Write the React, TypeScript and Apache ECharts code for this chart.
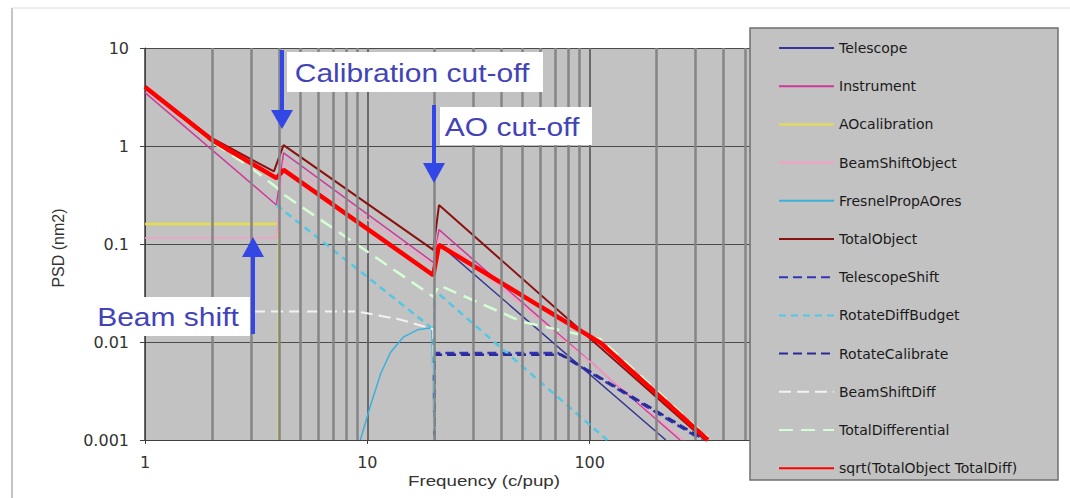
import React, { useEffect, useRef } from "react";
import * as echarts from "echarts";

// ---- axis ticks / grid ----
const xTicks = [1, 10, 100, 1000];
const yTicks = [0.001, 0.01, 0.1, 1, 10];
const minorGridF = [2, 3, 4, 5, 6, 7, 8, 9, 20, 30, 40, 50, 60, 70, 80, 90, 200, 300, 400, 500, 600, 700, 800, 900];

// ---- series names (legend order) ----
const seriesNames = [
  "Telescope",
  "Instrument",
  "AOcalibration",
  "BeamShiftObject",
  "FresnelPropAOres",
  "TotalObject",
  "TelescopeShift",
  "RotateDiffBudget",
  "RotateCalibrate",
  "BeamShiftDiff",
  "TotalDifferential",
  "sqrt(TotalObject TotalDiff)",
];

// ---- series values [frequency, PSD] ----
const telescope = [[1, 3.9], [2, 1.12], [3.9, 0.46], [4.2, 0.56], [19.8, 0.048], [21, 0.1], [220, 0.001]];
const instrument = [[1, 3.5], [3.9, 0.25], [4.2, 0.85], [19.8, 0.065], [21, 0.14], [255, 0.001]];
const aoCalibration = [[1, 0.16], [4, 0.16], [4, 0.001]];
const beamShiftObject = [[1, 0.115], [3.9, 0.115], [4.2, 0.7], [19.8, 0.06], [21, 0.12], [265, 0.001]];
const fresnelPropAOres = [[9.3, 0.001], [10.3, 0.0022], [11.5, 0.0048], [12.7, 0.0078], [14.5, 0.0112], [16.8, 0.0133], [19.5, 0.014], [20, 0.001]];
const totalObject = [[1, 4.1], [2, 1.2], [3.8, 0.55], [4.2, 1.02], [19.8, 0.087], [21, 0.25], [330, 0.001]];
const telescopeShift = [[20, 0.001], [20, 0.0077], [72, 0.0077], [320, 0.001]];
const rotateDiffBudget = [[3.9, 0.25], [19.8, 0.0135], [20, 0.001], [20, 0.034], [120, 0.001]];
const rotateCalibrate = [[20, 0.001], [20, 0.0074], [75, 0.0074], [330, 0.001]];
const beamShiftDiff = [[1, 0.0205], [9, 0.0205], [14, 0.017], [19.8, 0.0135], [20, 0.001]];
const totalDifferential = [[1, 3.9], [2, 1.1], [3, 0.6], [3.9, 0.38], [4.2, 0.32], [19.8, 0.029], [21, 0.038], [50, 0.016], [112, 0.0107], [340, 0.00106]];
const sqrtTotal = [[1, 4.0], [2, 1.15], [3.9, 0.47], [4.2, 0.57], [19.8, 0.048], [21, 0.098], [60, 0.023], [112, 0.0098], [340, 0.001]];

const seriesData = [
  telescope, instrument, aoCalibration, beamShiftObject, fresnelPropAOres, totalObject,
  telescopeShift, rotateDiffBudget, rotateCalibrate, beamShiftDiff, totalDifferential, sqrtTotal,
];

const seriesStyles: { color: string; width: number; type: any }[] = [
  { color: "#343494", width: 1.5, type: "solid" },
  { color: "#D0399A", width: 1.5, type: "solid" },
  { color: "#E8DE48", width: 2.5, type: "solid" },
  { color: "#F6A0C6", width: 1.5, type: "solid" },
  { color: "#3CB0DC", width: 1.5, type: "solid" },
  { color: "#8B1010", width: 2, type: "solid" },
  { color: "#3434B4", width: 2.5, type: [9, 5] },
  { color: "#52C8E4", width: 2.5, type: [7, 5] },
  { color: "#2A2A98", width: 2.5, type: [9, 5] },
  { color: "#F2F2F2", width: 2, type: [12, 6] },
  { color: "#D4FFD4", width: 2.5, type: [14, 8] },
  { color: "#FF0000", width: 4.5, type: "solid" },
];

const fmt = (v: number) => String(Number(Number(v).toPrecision(6)));

export default function App() {
  const ref = useRef<HTMLDivElement>(null);
  useEffect(() => {
    if (!ref.current) return;
    const chart = echarts.init(ref.current, undefined, { renderer: "svg" });
    const annotBlue = "#4343B8";
    const arrowBlue = "#3347E6";
    const series: any[] = [
      {
        type: "line",
        data: [],
        z: 1,
        silent: true,
        markLine: {
          silent: true,
          animation: false,
          symbol: ["none", "none"],
          label: { show: false },
          lineStyle: { color: "#858585", width: 2.5, type: "solid" },
          data: minorGridF.map((f) => ({ xAxis: f })),
        },
      },
      ...seriesNames.map((name, i) => ({
        name,
        type: "line",
        data: seriesData[i],
        symbol: "none",
        showSymbol: false,
        silent: true,
        z: 2 + i * 0.01,
        lineStyle: { color: seriesStyles[i].color, width: seriesStyles[i].width, type: seriesStyles[i].type },
        itemStyle: { color: seriesStyles[i].color },
      })),
    ];

    chart.setOption({
      animation: false,
      backgroundColor: "#ffffff",
      grid: {
        left: 145,
        top: 48,
        width: 667,
        height: 392,
        show: true,
        backgroundColor: "#C2C2C2",
        borderWidth: 0,
        containLabel: false,
        outerBoundsMode: "none",
      },
      xAxis: {
        type: "log",
        logBase: 10,
        min: 1,
        max: 1000,
        axisLine: { show: true, lineStyle: { color: "#404040", width: 1 } },
        axisTick: { show: true, length: 4, lineStyle: { color: "#404040" } },
        axisLabel: {
          formatter: fmt,
          fontFamily: "DejaVu Sans",
          fontSize: 16,
          color: "#333",
          margin: 14,
        },
        splitLine: { show: true, lineStyle: { color: "#6a6a6a", width: 2 } },
        minorTick: { show: false },
      },
      yAxis: {
        type: "log",
        logBase: 10,
        min: 0.001,
        max: 10,
        axisLine: { show: true, lineStyle: { color: "#404040", width: 1 } },
        axisTick: { show: true, length: 5, lineStyle: { color: "#404040" } },
        axisLabel: {
          formatter: fmt,
          fontFamily: "DejaVu Sans",
          fontSize: 16,
          color: "#333",
          margin: 16,
        },
        splitLine: { show: true, lineStyle: { color: "#4a4a4a", width: 1 } },
      },
      legend: {
        orient: "vertical",
        left: 778,
        top: 41,
        padding: 0,
        itemWidth: 55,
        itemHeight: 14,
        itemGap: 24.2,
        z: 20,
        selectedMode: false,
        data: seriesNames,
        itemStyle: { opacity: 0 },
        textStyle: { fontFamily: "DejaVu Sans", fontSize: 14, color: "#1a1a1a", lineHeight: 14 },
      },
      graphic: {
        elements: [
          // legend box (covers right part of plot)
          { type: "rect", z: 10, shape: { x: 750, y: 28, width: 308, height: 452 }, style: { fill: "#C2C2C2", stroke: "#707070", lineWidth: 1.5 } },
          // outer frame
          { type: "line", z: 10, shape: { x1: 12, y1: 8, x2: 12, y2: 498 }, style: { stroke: "#c4c4c4", lineWidth: 2 } },
          { type: "line", z: 10, shape: { x1: 12, y1: 8, x2: 1070, y2: 8 }, style: { stroke: "#dcdcdc", lineWidth: 1 } },
          // axis names
          {
            type: "text", z: 10, x: 484, y: 481, scaleX: 1.25,
            style: { text: "Frequency (c/pup)", fontFamily: "Liberation Sans", fontSize: 15, fill: "#333", align: "center", verticalAlign: "middle" },
          },
          {
            type: "text", z: 10, x: 58, y: 248, rotation: Math.PI / 2,
            style: { text: "PSD (nm2)", fontFamily: "Liberation Sans", fontSize: 16, fill: "#333", align: "center", verticalAlign: "middle" },
          },
          // Calibration cut-off
          { type: "rect", z: 10, shape: { x: 287, y: 52, width: 256, height: 40 }, style: { fill: "#ffffff" } },
          {
            type: "text", z: 11, x: 412, y: 73, scaleX: 1.2,
            style: { text: "Calibration cut-off", fontFamily: "Liberation Sans", fontSize: 25, fill: annotBlue, align: "center", verticalAlign: "middle" },
          },
          { type: "line", z: 11, shape: { x1: 282, y1: 50, x2: 282, y2: 113 }, style: { stroke: arrowBlue, lineWidth: 4 } },
          { type: "polygon", z: 11, shape: { points: [[271, 110], [293, 110], [282, 129]] }, style: { fill: arrowBlue } },
          // AO cut-off
          { type: "rect", z: 10, shape: { x: 440, y: 107, width: 152, height: 38 }, style: { fill: "#ffffff" } },
          {
            type: "text", z: 11, x: 512, y: 127, scaleX: 1.2,
            style: { text: "AO cut-off", fontFamily: "Liberation Sans", fontSize: 25, fill: annotBlue, align: "center", verticalAlign: "middle" },
          },
          { type: "line", z: 11, shape: { x1: 434, y1: 105, x2: 434, y2: 166 }, style: { stroke: arrowBlue, lineWidth: 4 } },
          { type: "polygon", z: 11, shape: { points: [[423, 163], [445, 163], [434, 183]] }, style: { fill: arrowBlue } },
          // Beam shift
          { type: "rect", z: 10, shape: { x: 90, y: 297, width: 160, height: 39 }, style: { fill: "#ffffff" } },
          {
            type: "text", z: 11, x: 168, y: 317, scaleX: 1.2,
            style: { text: "Beam shift", fontFamily: "Liberation Sans", fontSize: 25, fill: annotBlue, align: "center", verticalAlign: "middle" },
          },
          { type: "line", z: 11, shape: { x1: 253, y1: 334, x2: 253, y2: 254 }, style: { stroke: arrowBlue, lineWidth: 4 } },
          { type: "polygon", z: 11, shape: { points: [[242, 257], [264, 257], [253, 237]] }, style: { fill: arrowBlue } },
        ],
      },
      series,
    });
    return () => chart.dispose();
  }, []);

  return (
    <div
      ref={ref}
      style={{ position: "fixed", left: 0, top: 0, width: 1070, height: 498, background: "#fff" }}
    />
  );
}
